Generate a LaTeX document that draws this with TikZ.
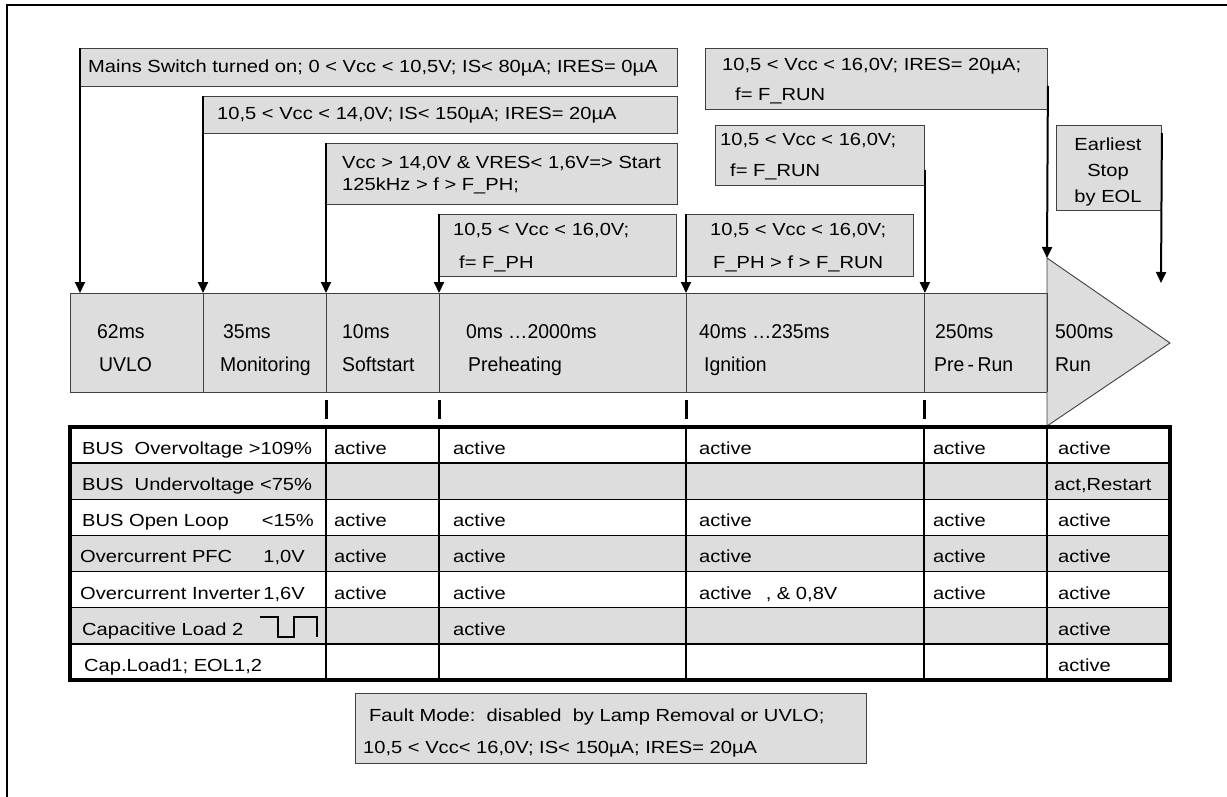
\documentclass[tikz,border=0pt]{standalone}
\usepackage{fontspec}
\setmainfont[FakeStretch=1.15]{Liberation Sans}
\newfontfamily\phasefont[FakeStretch=0.97]{Liberation Sans}
\usetikzlibrary{arrows.meta}
\definecolor{boxgray}{HTML}{DDDDDD}
\definecolor{edgegray}{HTML}{404040}
\begin{document}
\begin{tikzpicture}[x=1pt,y=-1pt,
  infobox/.style={draw=edgegray, fill=boxgray, line width=0.9pt, inner sep=0pt, anchor=north west},
  phasebox/.style={draw=edgegray, fill=boxgray, line width=0.9pt, inner sep=0pt, anchor=north west, minimum height=99pt},
  txt/.style={anchor=base west, inner sep=0pt, font=\fontsize{17.5}{21}\selectfont},
  ctxt/.style={anchor=base, inner sep=0pt, font=\fontsize{17.5}{21}\selectfont},
  rtxt/.style={anchor=base east, inner sep=0pt, font=\fontsize{17.5}{21}\selectfont},
  ptxt/.style={anchor=base west, inner sep=0pt, font=\phasefont\fontsize{20}{24}\selectfont},
  arr/.style={line width=2pt, -{Triangle[width=10pt,length=11pt]}},
  tickmark/.style={line width=3pt},
  grid/.style={line width=1.5pt},
]
\useasboundingbox (0,0) rectangle (1227,797);
\draw[line width=2pt] (7,810) -- (7,5) -- (1240,5);

% phase bar
\node[phasebox, minimum width=133pt] (p1) at (70,293) {};
\node[phasebox, minimum width=123pt] (p2) at (203,293) {};
\node[phasebox, minimum width=113pt] (p3) at (326,293) {};
\node[phasebox, minimum width=247pt] (p4) at (439,293) {};
\node[phasebox, minimum width=238pt] (p5) at (686,293) {};
\node[phasebox, minimum width=123pt] (p6) at (924,293) {};
\filldraw[fill=boxgray, draw=edgegray, line width=0.9pt] (1047,258) -- (1170,343) -- (1047,426) -- cycle;
\draw[edgegray, line width=0.9pt] (1047,293) -- (1047,392);
\coordinate (runtop) at (1047,258);
\coordinate (eolend) at (1161,283);

% info boxes
\node[infobox, minimum width=597pt, minimum height=38pt] (b1) at (80,48) {};
\node[infobox, minimum width=474pt, minimum height=37pt] (b2) at (203,96) {};
\node[infobox, minimum width=351pt, minimum height=61pt] (b3) at (326,143) {};
\node[infobox, minimum width=237pt, minimum height=62pt] (b4) at (439,214) {};
\node[infobox, minimum width=227pt, minimum height=62pt] (b5) at (686,214) {};
\node[infobox, minimum width=209pt, minimum height=60pt] (b6) at (715,125) {};
\node[infobox, minimum width=342pt, minimum height=61pt] (b7) at (705,48) {};
\node[infobox, minimum width=105pt, minimum height=85pt] (b8) at (1056,125) {};
\node[infobox, minimum width=511pt, minimum height=70pt] (bf) at (355,693) {};

% box texts
\node[txt] (t1) at (88,73) {Mains Switch turned on; 0 < Vcc < 10,5V; IS< 80µA; IRES= 0µA};
\node[txt] (t2) at (217,120) {10,5 < Vcc < 14,0V; IS< 150µA; IRES= 20µA};
\node[txt] (t3a) at (342,169) {Vcc > 14,0V \& VRES< 1,6V=> Start};
\node[txt] (t3b) at (342,190) {125kHz > f > F\_PH;};
\node[txt] (t4a) at (453,236) {10,5 < Vcc < 16,0V;};
\node[txt] (t4b) at (459,268) {f= F\_PH};
\node[txt] (t5a) at (710,236) {10,5 < Vcc < 16,0V;};
\node[txt] (t5b) at (713,268) {F\_PH > f > F\_RUN};
\node[txt] (t6a) at (720,146) {10,5 < Vcc < 16,0V;};
\node[txt] (t6b) at (730,177) {f= F\_RUN};
\node[txt] (t7a) at (722,71) {10,5 < Vcc < 16,0V; IRES= 20µA;};
\node[txt] (t7b) at (735,101) {f= F\_RUN};
\node[ctxt] (t8a) at (1108,151) {Earliest};
\node[ctxt] (t8b) at (1108,177) {Stop};
\node[ctxt] (t8c) at (1108,202) {by EOL};
\node[txt] (tf1) at (369,721) {Fault Mode:\ \ disabled\ \ by Lamp Removal or UVLO;};
\node[txt] (tf2) at (363,753) {10,5 < Vcc< 16,0V; IS< 150µA; IRES= 20µA};

% arrows
\draw[arr] (b1.north west) -- (b1.north west |- p1.north);
\draw[arr] (b2.north west) -- (b2.north west |- p2.north);
\draw[arr] (b3.north west) -- (b3.north west |- p3.north);
\draw[arr] (b4.north west) -- (b4.north west |- p4.north);
\draw[arr] (b5.north west) -- (b5.north west |- p5.north);
\draw[arr] ([yshift=-15pt]b6.east) -- (b6.east |- p6.north);
\draw[arr] ([yshift=-7pt]b7.east) -- (runtop);
\draw[arr] ([yshift=-8pt]b8.north east) -- (eolend);

% phase texts
\node[ptxt] (ph1a) at (97,338) {62ms};
\node[ptxt] (ph1b) at (99,371) {UVLO};
\node[ptxt] (ph2a) at (223,338) {35ms};
\node[ptxt] (ph2b) at (220,371) {Monitoring};
\node[ptxt] (ph3a) at (342,338) {10ms};
\node[ptxt] (ph3b) at (342,371) {Softstart};
\node[ptxt] (ph4a) at (466,338) {0ms …2000ms};
\node[ptxt] (ph4b) at (468,371) {Preheating};
\node[ptxt] (ph5a) at (699,338) {40ms …235ms};
\node[ptxt] (ph5b) at (704,371) {Ignition};
\node[ptxt] (ph6a) at (935,338) {250ms};
\node[ptxt] (ph6b) at (934,371) {Pre\,-\,Run};
\node[ptxt] (ph7a) at (1055,338) {500ms};
\node[ptxt] (ph7b) at (1055,371) {Run};

% ticks
\foreach \n in {p3,p4,p5,p6}
  \draw[tickmark] ([yshift=-7pt]\n.south west) -- ([yshift=-26pt]\n.south west);

% table
\foreach \r in {1,3,5}
  \fill[boxgray] (70,{427+\r*36.143}) rectangle (1170,{427+(\r+1)*36.143});
\foreach \r in {1,...,6}
  \draw[grid] (70,{427+\r*36.143}) -- (1170,{427+\r*36.143});
\foreach \x in {326,439,686,924,1047}
  \draw[grid] (\x,427) -- (\x,680);
\draw[line width=3.5pt] (70,427) rectangle (1170,680);

% row labels
\node[txt] (r1l) at (82,454) {BUS\ \ Overvoltage >109\%};
\node[txt] (r2l) at (82,490) {BUS\ \ Undervoltage <75\%};
\node[txt] (r3l) at (82,526) {BUS Open Loop};
\node[rtxt] (r3v) at (314,526) {<15\%};
\node[txt] (r4l) at (80,562) {Overcurrent PFC};
\node[rtxt] (r4v) at (305,562) {1,0V};
\node[txt] (r5l) at (80,599) {Overcurrent Inverter};
\node[rtxt] (r5v) at (305,599) {1,6V};
\node[txt] (r6l) at (82,635) {Capacitive Load 2};
\draw[line width=2.5pt] (260,617) -| (278,637) -| (294,617) -| (317,637);
\node[txt] (r7l) at (84,671) {Cap.Load1; EOL1,2};

% cells
\foreach \y/\nm in {454/a,526/c,562/d}{
  \node[txt] (c1\nm) at (334,\y) {active};
  \node[txt] (c2\nm) at (453,\y) {active};
  \node[txt] (c3\nm) at (699,\y) {active};
  \node[txt] (c4\nm) at (933,\y) {active};
  \node[txt] (c5\nm) at (1058,\y) {active};
}
\node[txt] (c5b) at (1054,490) {act,Restart};
\node[txt] (c1e) at (334,599) {active};
\node[txt] (c2e) at (453,599) {active};
\node[txt] (c3e) at (699,599) {active\hspace{14pt}, \& 0,8V};
\node[txt] (c4e) at (933,599) {active};
\node[txt] (c5e) at (1058,599) {active};
\node[txt] (c2f) at (453,635) {active};
\node[txt] (c5f) at (1058,635) {active};
\node[txt] (c5g) at (1058,671) {active};
\end{tikzpicture}
\end{document}
